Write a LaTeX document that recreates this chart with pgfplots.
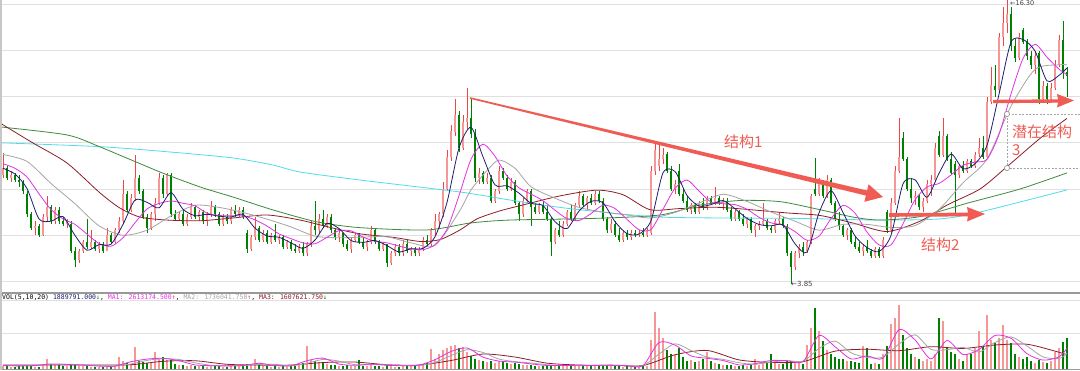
\documentclass[border=0pt]{standalone}
\usepackage{pgfplots}
\pgfplotsset{compat=1.18}
\usepackage{pgfplotstable}
\usepackage{fontspec}
\setmainfont{DejaVu Sans}
\newfontfamily\cjk{Noto Sans CJK SC}
\newfontfamily\dvs{DejaVu Sans}
\newfontfamily\mono{DejaVu Sans Mono}
\definecolor{upred}{RGB}{238,70,70}
\definecolor{upfill}{RGB}{247,150,150}
\definecolor{dngreen}{RGB}{0,128,0}
\definecolor{mafive}{RGB}{30,30,110}
\definecolor{maten}{RGB}{228,50,228}
\definecolor{matwenty}{RGB}{165,165,165}
\definecolor{masixty}{RGB}{140,30,40}
\definecolor{maonetwenty}{RGB}{60,140,60}
\definecolor{macyan}{RGB}{80,220,232}
\definecolor{anno}{RGB}{240,92,84}

\pgfplotstableread{
i o h l c v
0 8.6 9.55 8.5 8.9 3
1 8.9 9.0 8.4 8.5 3
2 8.5 8.8 8.3 8.6 2
3 8.6 8.7 8.3 8.4 2
4 8.4 8.6 8.1 8.3 3
5 8.3 8.4 7.8 7.9 3
6 7.8 7.9 6.8 6.9 4
7 6.9 7.0 6.2 6.3 3
8 6.3 6.6 6.0 6.4 2
9 6.4 6.5 5.9 6.0 2
10 6.0 6.9 5.95 6.8 4
11 6.8 7.7 6.6 7.2 10
12 7.2 7.3 6.5 6.6 5
13 6.6 7.2 6.5 7.1 5
14 7.1 7.2 6.5 6.6 4
15 6.6 6.8 6.4 6.5 3
16 6.5 6.7 6.3 6.6 3
17 6.5 6.6 5.2 5.3 4
18 5.3 5.5 4.6 4.9 4
19 4.9 5.4 4.8 5.3 3
20 5.3 5.8 5.2 5.7 3
21 5.7 6.7 5.4 5.5 3
22 5.5 6.2 5.4 5.7 2
23 5.7 5.8 5.3 5.4 2
24 5.4 5.7 5.2 5.6 2
25 5.6 5.7 5.2 5.3 2
26 5.3 6.3 5.3 6.0 3
27 6.0 6.1 5.6 5.7 2
28 5.7 6.3 5.6 6.2 3
29 6.2 6.8 6.1 6.6 12
30 6.6 8.4 6.5 7.8 8
31 7.8 7.9 7.0 7.1 6
32 7.1 7.8 7.0 7.6 5
33 7.6 9.5 7.5 8.5 21
34 8.5 8.6 7.8 7.9 8
35 7.9 8.0 6.7 6.8 7
36 6.8 6.9 6.1 6.3 6
37 6.3 7.0 6.2 6.9 6
38 6.9 7.6 6.6 7.4 17
39 7.4 8.7 7.3 8.5 10
40 8.5 8.6 7.6 7.8 12
41 7.8 8.7 7.7 8.6 9
42 8.6 8.7 6.8 6.9 9
43 6.9 7.1 6.6 6.7 5
44 6.7 7.0 6.6 6.9 4
45 6.9 7.1 6.4 6.5 4
46 6.5 6.9 6.4 6.8 3
47 6.8 7.4 6.7 7.2 4
48 7.2 7.3 6.7 6.8 3
49 6.8 7.1 6.6 7.0 3
50 7.0 7.1 6.5 6.6 3
51 6.6 7.0 6.4 6.9 2
52 6.9 7.5 6.8 7.2 3
53 7.2 7.3 6.8 6.9 3
54 6.9 7.0 6.4 6.5 3
55 6.5 6.9 6.4 6.8 2
56 6.8 6.9 6.5 6.6 2
57 6.6 7.2 6.5 7.1 3
58 7.1 7.3 6.8 6.9 3
59 6.9 7.2 6.8 7.1 3
60 7.1 7.2 6.7 6.8 3
61 6.1 6.2 5.2 5.4 5
62 5.4 6.0 5.3 5.9 4
63 5.9 6.8 5.8 6.3 10
64 6.3 6.4 5.7 5.8 4
65 5.8 6.2 5.7 6.1 3
66 6.1 6.2 5.6 5.7 3
67 5.7 6.1 5.6 6.0 2
68 6.0 6.5 5.7 5.8 3
69 5.8 6.0 5.6 5.9 2
70 5.9 6.0 5.4 5.5 3
71 5.5 5.8 5.4 5.7 2
72 5.7 5.8 5.3 5.4 3
73 5.4 5.6 5.2 5.3 3
74 5.3 5.6 5.2 5.5 5
75 5.5 5.7 5.1 5.2 6
76 5.2 5.7 5.1 5.6 22
77 5.6 6.6 5.5 6.4 9
78 6.4 7.5 6.0 6.2 8
79 6.2 6.9 6.1 6.7 7
80 6.7 7.1 6.3 6.4 6
81 6.4 6.9 6.3 6.8 5
82 6.8 6.9 6.1 6.2 4
83 6.2 6.3 5.8 5.9 4
84 5.9 6.2 5.7 6.1 3
85 6.1 6.1 5.5 5.6 3
86 5.6 5.8 5.3 5.4 4
87 5.4 5.9 5.2 5.8 3
88 5.8 6.1 5.7 6.0 3
89 6.0 6.1 5.6 5.7 9
90 5.7 5.9 5.4 5.5 3
91 5.5 5.8 5.3 5.7 3
92 5.7 6.4 5.6 6.2 4
93 6.2 6.3 5.6 5.7 3
94 5.7 5.8 5.3 5.4 3
95 5.4 5.7 5.3 5.6 2
96 5.6 5.6 4.6 4.8 4
97 4.8 5.3 4.7 5.2 3
98 5.2 5.6 5.1 5.5 2
99 5.5 5.6 5.1 5.2 2
100 5.2 5.8 5.1 5.6 3
101 5.6 5.8 5.2 5.3 3
102 5.3 5.5 5.1 5.4 3
103 5.4 5.5 5.1 5.2 4
104 5.2 5.5 5.1 5.4 4
105 5.4 5.9 5.3 5.8 5
106 5.8 6.0 5.5 5.6 6
107 5.6 6.3 5.5 6.2 19
108 6.2 6.9 6.0 6.6 10
109 6.6 7.0 6.3 6.9 15
110 6.9 8.3 6.8 8.0 18
111 8.0 9.7 7.9 9.4 20
112 9.4 10.8 9.2 10.5 22
113 10.5 11.9 10.3 11.2 23
114 11.2 11.4 9.6 9.8 20
115 9.8 11.2 9.7 10.9 21
116 10.9 12.4 10.6 11.1 17
117 11.1 11.95 10.2 10.4 13
118 10.4 10.6 8.3 8.5 10
119 8.5 8.9 8.2 8.7 9
120 8.7 8.8 8.2 8.3 8
121 8.3 8.7 8.2 8.5 7
122 8.5 8.6 7.4 7.5 8
123 7.5 8.0 7.4 7.9 6
124 7.9 9.0 7.8 8.8 8
125 8.8 8.9 8.4 8.5 7
126 8.5 8.6 7.9 8.0 6
127 8.0 8.5 7.9 8.3 5
128 8.3 8.4 7.3 7.4 6
129 7.4 7.5 6.6 6.9 5
130 6.9 7.6 6.8 7.5 4
131 7.5 8.0 7.4 7.9 4
132 7.9 8.0 6.4 7.2 4
133 7.2 7.4 6.9 7.0 3
134 7.0 7.4 6.9 7.3 3
135 7.3 7.5 6.9 7.0 3
136 7.0 7.3 6.6 6.7 3
137 6.7 6.8 5.1 5.7 4
138 5.7 6.3 5.6 6.2 3
139 6.2 6.6 5.9 6.0 3
140 6.0 6.6 5.9 6.5 3
141 6.5 7.1 6.4 7.0 3
142 7.0 7.3 6.6 6.7 3
143 6.7 7.4 6.6 7.3 4
144 7.3 7.9 7.2 7.7 3
145 7.7 7.8 7.2 7.3 3
146 7.3 7.7 7.1 7.6 3
147 7.6 7.8 7.3 7.4 3
148 7.4 7.9 7.3 7.8 3
149 7.8 7.9 7.4 7.5 3
150 7.5 7.6 6.6 6.7 4
151 6.7 6.8 6.1 6.2 4
152 6.2 6.7 6.1 6.5 3
153 6.5 6.6 5.9 6.0 3
154 6.0 6.3 5.7 5.8 3
155 5.8 6.2 5.7 6.1 2
156 6.1 6.2 5.8 5.9 3
157 5.9 6.2 5.8 6.1 3
158 6.1 6.2 5.9 6.0 2
159 6.0 6.2 5.9 6.1 3
160 6.1 6.3 5.9 6.0 3
161 6.0 6.3 5.9 6.2 3
162 6.1 9.0 6.0 8.8 28
163 8.8 10.05 8.6 9.7 56
164 9.0 9.9 8.8 9.3 40
165 9.3 9.8 9.1 9.5 30
166 9.5 9.6 8.7 8.8 18
167 8.8 9.0 7.9 8.0 15
168 8.0 8.4 7.8 8.2 14
169 8.8 9.1 7.7 7.8 20
170 7.8 8.0 7.4 7.5 12
171 7.5 7.7 7.0 7.1 8
172 7.1 7.4 6.9 7.3 9
173 7.3 7.4 6.9 7.0 7
174 7.0 7.5 6.9 7.4 8
175 7.4 7.6 7.1 7.2 10
176 7.2 7.7 7.1 7.6 17
177 7.6 7.7 7.3 7.4 8
178 7.4 8.1 7.3 7.6 6
179 7.6 7.7 7.3 7.4 5
180 7.4 7.6 7.1 7.5 4
181 7.5 7.6 7.0 7.1 4
182 7.1 7.2 6.6 6.7 4
183 6.7 7.1 6.6 7.0 3
184 7.0 7.1 6.6 6.7 3
185 6.7 6.9 6.4 6.5 4
186 6.5 6.8 6.3 6.7 3
187 6.7 6.8 6.1 6.2 4
188 6.2 6.5 5.9 6.4 10
189 6.4 6.6 6.2 6.5 4
190 6.5 7.4 6.4 6.6 5
191 6.6 6.7 6.2 6.3 6
192 6.3 6.4 6.1 6.2 15
193 6.2 6.7 6.1 6.6 6
194 6.6 7.0 6.5 6.7 5
195 6.7 6.8 6.3 6.4 5
196 6.4 6.5 5.1 5.2 8
197 5.2 5.3 3.85 4.6 8
198 4.6 5.3 4.5 5.2 6
199 5.2 5.6 5.0 5.5 7
200 5.5 5.7 5.1 5.3 5
201 5.3 5.8 5.2 5.7 23
202 5.7 7.8 5.6 7.7 40
203 8.0 9.35 7.7 7.8 60
204 7.8 8.5 7.7 8.3 37
205 8.3 8.4 7.6 7.7 27
206 7.7 8.6 7.6 8.4 18
207 8.4 8.5 7.3 7.4 15
208 7.4 7.5 6.6 6.7 12
209 6.7 7.0 6.2 6.4 10
210 6.4 6.5 5.9 6.0 10
211 6.0 6.3 5.8 6.2 8
212 6.2 6.3 5.6 5.7 8
213 5.7 5.9 5.4 5.5 7
214 5.5 5.7 5.2 5.3 6
215 5.3 5.6 5.1 5.5 22
216 5.5 5.8 5.2 5.3 20
217 5.3 5.4 5.0 5.1 5
218 5.1 5.5 5.0 5.4 6
219 5.4 5.5 5.0 5.1 5
220 5.1 5.9 5.0 5.8 15
221 7.0 7.1 6.1 6.2 22
222 6.2 7.6 6.1 7.4 44
223 7.4 9.0 7.3 8.8 50
224 8.8 11.1 8.7 9.4 63
225 10.2 10.5 9.2 9.3 33
226 9.3 9.4 7.9 8.0 20
227 8.0 8.5 7.4 7.6 15
228 7.6 7.9 7.3 7.7 12
229 7.7 7.8 7.1 7.2 10
230 7.2 7.6 7.0 7.5 8
231 7.5 8.4 7.4 8.2 10
232 8.2 8.6 7.7 8.4 8
233 8.4 10.0 8.3 9.8 15
234 10.3 10.5 9.4 9.5 50
235 9.5 11.1 9.4 10.3 47
236 10.3 10.4 9.2 9.3 20
237 9.3 9.6 8.6 8.7 17
238 9.1 9.2 6.9 8.6 15
239 8.6 9.1 8.5 9.0 10
240 9.0 9.2 8.7 8.8 8
241 8.8 9.3 8.7 9.2 15
242 9.2 9.3 8.9 9.0 15
243 9.0 9.6 8.9 9.5 20
244 9.5 10.2 9.4 9.8 37
245 9.8 10.3 9.3 9.4 22
246 9.4 12.0 9.3 11.8 53
247 11.8 13.3 11.7 12.5 28
248 12.5 13.4 12.0 12.3 25
249 12.3 14.8 12.2 14.6 30
250 14.6 15.9 14.2 15.2 43
251 15.2 16.3 14.8 15.6 28
252 15.6 15.9 14.0 14.2 25
253 14.2 14.5 13.5 13.7 15
254 13.7 14.8 13.6 14.6 12
255 14.9 15.0 14.3 14.4 10
256 14.4 14.5 13.6 13.8 12
257 13.8 14.0 13.2 13.4 8
258 13.4 14.0 13.0 13.8 6
259 13.9 14.0 11.7 11.9 9
260 11.9 12.7 11.8 12.5 7
261 12.5 12.6 11.7 11.9 6
262 11.9 12.6 11.8 12.4 8
263 12.4 13.6 12.3 13.4 17
264 13.4 14.7 13.3 14.5 20
265 14.5 15.3 12.8 13.1 26
266 13.1 13.3 12.0 12.9 30
}\candles

\pgfplotstableread{
i m
0 8.9
3 8.65
6 8.02
9 6.70
12 6.60
15 6.80
18 5.98
21 5.34
24 5.58
27 5.60
30 6.46
33 7.52
36 7.42
39 7.18
42 7.84
45 7.12
48 6.84
51 6.90
54 6.82
57 6.78
60 6.90
63 6.30
66 5.96
69 5.90
72 5.66
75 5.42
78 5.78
81 6.50
84 6.28
87 5.76
90 5.68
93 5.76
96 5.54
99 5.26
102 5.40
105 5.42
108 5.92
111 7.42
114 9.78
117 10.68
120 9.40
123 8.18
126 8.14
129 7.82
132 7.38
135 7.28
138 6.58
141 6.28
144 7.04
147 7.46
150 7.40
153 6.58
156 6.06
159 6.04
162 6.62
165 8.70
168 8.76
171 7.72
174 7.26
177 7.32
180 7.50
183 7.14
186 6.72
189 6.46
192 6.40
195 6.44
198 5.62
201 5.26
204 6.96
207 7.92
210 6.98
213 5.96
216 5.46
219 5.28
222 5.98
225 8.22
228 8.40
231 7.64
234 8.68
237 9.52
240 8.88
243 9.10
246 9.90
249 12.12
252 14.38
255 14.50
258 14.00
261 12.70
264 12.94
266 13.26
}\mafive

\pgfplotstableread{
i m
0 9.1
3 8.9
6 8.52
9 7.79
12 7.11
15 6.70
18 6.46
21 6.04
24 5.63
27 5.51
30 5.88
33 6.53
36 7.13
39 7.37
42 7.48
45 7.38
48 7.27
51 6.95
54 6.85
57 6.83
60 6.83
63 6.66
66 6.39
69 6.05
72 5.84
75 5.66
78 5.62
81 5.90
84 6.19
87 6.18
90 5.91
93 5.73
96 5.66
99 5.52
102 5.40
105 5.36
108 5.58
111 6.25
114 7.71
117 9.29
120 9.95
123 9.42
126 8.57
129 8.05
132 7.78
135 7.49
138 7.08
141 6.71
144 6.63
147 6.93
150 7.30
153 7.15
156 6.68
159 6.23
162 6.24
165 7.12
168 8.03
171 8.39
174 7.91
177 7.43
180 7.36
183 7.32
186 7.12
189 6.77
192 6.53
195 6.43
198 6.15
201 5.77
204 5.95
207 6.71
210 7.29
213 6.95
216 6.13
219 5.57
222 5.57
225 6.49
228 7.53
231 8.09
234 8.24
237 8.61
240 9.03
243 9.17
246 9.29
249 10.37
252 12.13
255 13.67
258 14.29
261 13.73
264 13.21
266 12.97
}\maten

\pgfplotstableread{
i m
0 9.5
6 9.2
12 8.24
18 7.36
24 6.40
30 5.99
36 6.21
42 6.83
48 7.29
54 7.20
60 6.98
66 6.69
72 6.35
78 5.95
84 5.88
90 5.91
96 5.92
102 5.66
108 5.55
114 7.00
117 7.96
121 8.80
124 9.26
128 8.90
132 8.10
138 7.60
144 7.20
150 7.00
156 6.87
162 6.74
168 6.98
174 7.39
180 7.77
186 7.46
192 7.00
198 6.60
204 6.21
210 6.46
216 6.46
222 6.33
228 6.41
234 7.11
240 8.27
246 9.30
252 11.60
258 13.20
264 13.40
266 13.40
}\matwenty

\pgfplotstableread{
x m
0 10.87
33 10.0
67 9.13
100 7.83
120 7.17
140 6.78
167 6.65
200 6.62
233 6.74
267 6.87
300 6.65
333 6.30
360 6.05
393 5.90
420 5.72
440 5.80
460 6.22
477 6.70
500 7.05
527 7.35
560 7.70
597 7.95
623 7.75
650 7.10
680 7.15
720 7.20
787 6.96
820 6.85
853 6.52
887 6.15
920 6.60
947 7.30
980 8.00
1007 8.97
1040 10.20
1067 11.07
}\masixty

\pgfplotstableread{
x m
0 10.70
67 10.35
100 9.83
160 8.74
200 8.09
233 7.65
273 7.09
317 6.57
360 6.32
427 6.22
470 6.52
510 6.65
593 6.72
660 6.87
700 7.30
740 7.50
780 7.45
820 7.10
853 6.78
880 6.65
920 6.80
967 7.38
1020 8.00
1067 8.70
}\maonetwenty

\pgfplotstableread{
x m
0 10.01
100 9.84
167 9.62
233 9.35
273 9.04
300 8.74
360 8.39
460 7.87
510 7.52
560 7.20
610 6.96
660 6.78
720 6.74
800 6.72
880 6.65
940 6.70
980 7.00
1067 7.96
}\macyan

\pgfplotstableread{
i m
0 3.0
4 2.6
8 3.0
12 4.6
16 4.0
20 3.4
24 2.4
28 2.4
32 6.8
36 9.4
40 10.2
44 7.8
48 3.6
52 2.8
56 2.6
60 3.0
64 5.2
68 3.0
72 2.6
76 7.8
80 10.4
84 4.4
88 3.2
92 4.4
96 3.2
100 2.8
104 3.4
108 8.8
112 17
116 20.6
120 11.4
124 7.4
128 6.4
132 4.6
136 3.0
140 3.0
144 3.2
148 3.0
152 3.4
156 2.8
160 2.8
164 26
168 23.4
172 12.6
176 10.2
180 8
184 3.6
188 4.8
192 8
196 7.8
200 6.8
204 33
208 21.8
212 9.6
216 12.6
220 10.2
224 38.8
228 28.6
232 9.6
236 28
240 14
244 19
248 33
252 30.2
256 14.8
260 8.4
264 11.6
266 20.2
}\vmaone

\pgfplotstableread{
i m
0 3.0
8 2.8
12 3.8
16 4.3
20 3.7
24 2.9
28 2.4
32 4.6
36 8.1
40 9.8
44 9.0
48 5.7
52 3.2
56 2.7
60 2.8
64 4.1
68 4.1
72 2.8
76 5.2
80 9.1
84 7.4
88 3.8
92 3.8
96 3.8
100 3.0
104 3.1
108 6.1
112 12.9
116 18.8
120 16
124 9.4
128 6.9
132 5.5
136 3.8
140 3.0
144 3.1
148 3.1
152 3.2
156 3.1
160 2.8
164 14.4
168 24.7
172 18
176 11.4
180 9.1
184 5.8
188 4.2
192 6.4
196 7.9
200 7.3
204 19.9
208 27.4
212 15.7
216 11.1
220 11.4
224 24.5
228 33.7
232 19.1
236 18.8
240 21
244 16.5
248 26
252 31.6
256 22.5
260 11.6
264 10
266 15
}\vmatwo

\pgfplotstableread{
i m
0 3.5
8 3.4
16 3.55
24 3.6
32 3.75
40 7.2
48 7.75
56 4.2
64 3.4
72 3.45
80 5.95
88 6.45
96 3.8
104 3.45
112 8.0
120 14.45
128 11.45
136 5.35
144 3.45
152 3.15
160 3.0
168 13.75
176 18.05
184 8.6
192 6.1
200 6.85
208 17.35
216 19.25
224 17.8
232 21.8
240 20.05
248 23.5
256 24.25
264 16.25
266 13.75
}\vmathree

\pgfplotsset{
  panel/.style={scale only axis, width=1080pt, xmin=0, xmax=1080,
    anchor=south west, axis line style={draw=none}, xtick=\empty,
    yticklabel=\empty, major tick length=0pt, ymajorgrids,
    grid style={draw=black!12, line width=1pt}},
  upsel/.style={restrict expr to domain={\thisrow{c}-\thisrow{o}}{0:1000}},
  dnsel/.style={restrict expr to domain={\thisrow{c}-\thisrow{o}}{-1000:-0.0001}},
  ebar/.style 2 args={draw=none, mark=none, forget plot,
    error bars/.cd, y dir=both, y explicit, error mark=none,
    error bar style={draw=#1, line width=#2}},
  maline/.style={smooth, tension=0.45, line width=0.8pt, mark=none, forget plot},
}

\begin{document}
\begin{tikzpicture}[x=1pt,y=1pt]
\useasboundingbox (0,0) rectangle (1080,370);
\fill[white] (0,0) rectangle (1080,370);
% price panel
\begin{axis}[panel, at={(0pt,77pt)}, height=293pt,
  ymin=3.4783, ymax=16.2174, ytick={4,6,8,10,12,14,16}]
\addplot[upsel, ebar={upred}{0.9pt}] table[x expr=3+4*\thisrow{i}, y expr=(\thisrow{h}+\thisrow{l})/2, y error expr=(\thisrow{h}-\thisrow{l})/2]{\candles};
\addplot[dnsel, ebar={dngreen}{0.9pt}] table[x expr=3+4*\thisrow{i}, y expr=(\thisrow{h}+\thisrow{l})/2, y error expr=(\thisrow{h}-\thisrow{l})/2]{\candles};
\addplot[upsel, ebar={upred}{2.8pt}] table[x expr=3+4*\thisrow{i}, y expr=(\thisrow{o}+\thisrow{c})/2, y error expr=abs(\thisrow{c}-\thisrow{o})/2]{\candles};
\addplot[upsel, ebar={upfill}{1.1pt}] table[x expr=3+4*\thisrow{i}, y expr=(\thisrow{o}+\thisrow{c})/2, y error expr=abs(\thisrow{c}-\thisrow{o})/2]{\candles};
\addplot[dnsel, ebar={dngreen}{2.8pt}] table[x expr=3+4*\thisrow{i}, y expr=(\thisrow{o}+\thisrow{c})/2, y error expr=abs(\thisrow{c}-\thisrow{o})/2]{\candles};
\addplot[maline, draw=macyan] table[x=x, y=m]{\macyan};
\addplot[maline, draw=maonetwenty] table[x=x, y=m]{\maonetwenty};
\addplot[maline, draw=masixty] table[x=x, y=m]{\masixty};
\addplot[maline, draw=matwenty] table[x expr=3+4*\thisrow{i}, y=m]{\matwenty};
\addplot[maline, draw=maten] table[x expr=3+4*\thisrow{i}, y=m]{\maten};
\addplot[maline, draw=mafive] table[x expr=3+4*\thisrow{i}, y=m]{\mafive};
\end{axis}
% volume panel
\begin{axis}[panel, at={(0pt,1.5pt)}, height=67.5pt,
  ymin=0, ymax=67.5, ytick={34.5,67.5}]
\addplot[upsel, ebar={upred}{2.8pt}] table[x expr=3+4*\thisrow{i}, y expr=\thisrow{v}/2, y error expr=\thisrow{v}/2]{\candles};
\addplot[upsel, ebar={upfill}{1.1pt}] table[x expr=3+4*\thisrow{i}, y expr=\thisrow{v}/2, y error expr=\thisrow{v}/2]{\candles};
\addplot[dnsel, ebar={dngreen}{2.8pt}] table[x expr=3+4*\thisrow{i}, y expr=\thisrow{v}/2, y error expr=\thisrow{v}/2]{\candles};
\addplot[maline, draw=masixty] table[x expr=3+4*\thisrow{i}, y=m]{\vmathree};
\addplot[maline, draw=matwenty] table[x expr=3+4*\thisrow{i}, y=m]{\vmatwo};
\addplot[maline, draw=maten] table[x expr=3+4*\thisrow{i}, y=m]{\vmaone};
\end{axis}
% frame and annotations (y measured downward from the top)
\begin{scope}[shift={(0pt,370pt)}, x=1pt, y=-1pt]
\draw[black!40, line width=1pt] (0,293) -- (1080,293);
\draw[black!40, line width=1pt] (0,369.5) -- (1080,369.5);
\draw[black!22, line width=2pt] (1,0) -- (1,370);
\node[anchor=west, inner sep=0pt, font=\mono\fontsize{6.5}{6.5}\selectfont] at (2,297.3)
  {VOL(5,10,20) \textcolor{mafive}{1889791.000}\textcolor{dngreen}{↓}, \textcolor{maten}{MA1: 2613174.500}\textcolor{upred}{↑}, \textcolor{matwenty}{MA2: 1736041.750}\textcolor{upred}{↑}, \textcolor{masixty}{MA3: 1607621.750}\textcolor{dngreen}{↓}};
\node[anchor=west, inner sep=0pt, text=black!75, font=\dvs\fontsize{7}{7}\selectfont] at (791,284) {←3.85};
\node[anchor=north west, inner sep=0pt, text=black!75, font=\dvs\fontsize{6.5}{6.5}\selectfont] at (1010,0.6) {←16.30};
% structure 1
\fill[anno] (470.19,97.22) -- (867.08,190.51) -- (868.57,184.29) -- (883,197) -- (864.37,201.79) -- (865.86,195.57) -- (469.81,98.78) -- cycle;
% structure 2
\fill[anno] (889,213.2) -- (968,212.6) -- (967,207) -- (985,214) -- (967,221.5) -- (968,216.4) -- (889,216.8) -- cycle;
% structure 3
\fill[anno] (993,99.8) -- (1058,99.3) -- (1057,94) -- (1074,100.5) -- (1057,107.5) -- (1058,102.7) -- (993,103.2) -- cycle;
\draw[black!35, line width=0.6pt, dash pattern=on 2pt off 1.5pt] (1080,114) -- (1007,114) -- (1007,168) -- (1080,168);
\draw[black!45, fill=white, line width=0.6pt] (1007,114) circle (2.6pt);
\draw[black!45, fill=white, line width=0.6pt] (1007,168) circle (2.6pt);
\node[anchor=west, inner sep=0pt, text=anno, font=\cjk\fontsize{15}{15}\selectfont] at (724,142) {结构1};
\node[anchor=west, inner sep=0pt, text=anno, font=\cjk\fontsize{15}{15}\selectfont] at (921,245) {结构2};
\node[anchor=west, inner sep=0pt, text=anno, font=\cjk\fontsize{15}{15}\selectfont] at (1012,131.5) {潜在结构};
\node[anchor=west, inner sep=0pt, text=anno, font=\cjk\fontsize{15}{15}\selectfont] at (1012,150.5) {3};
\end{scope}
\end{tikzpicture}
\end{document}
